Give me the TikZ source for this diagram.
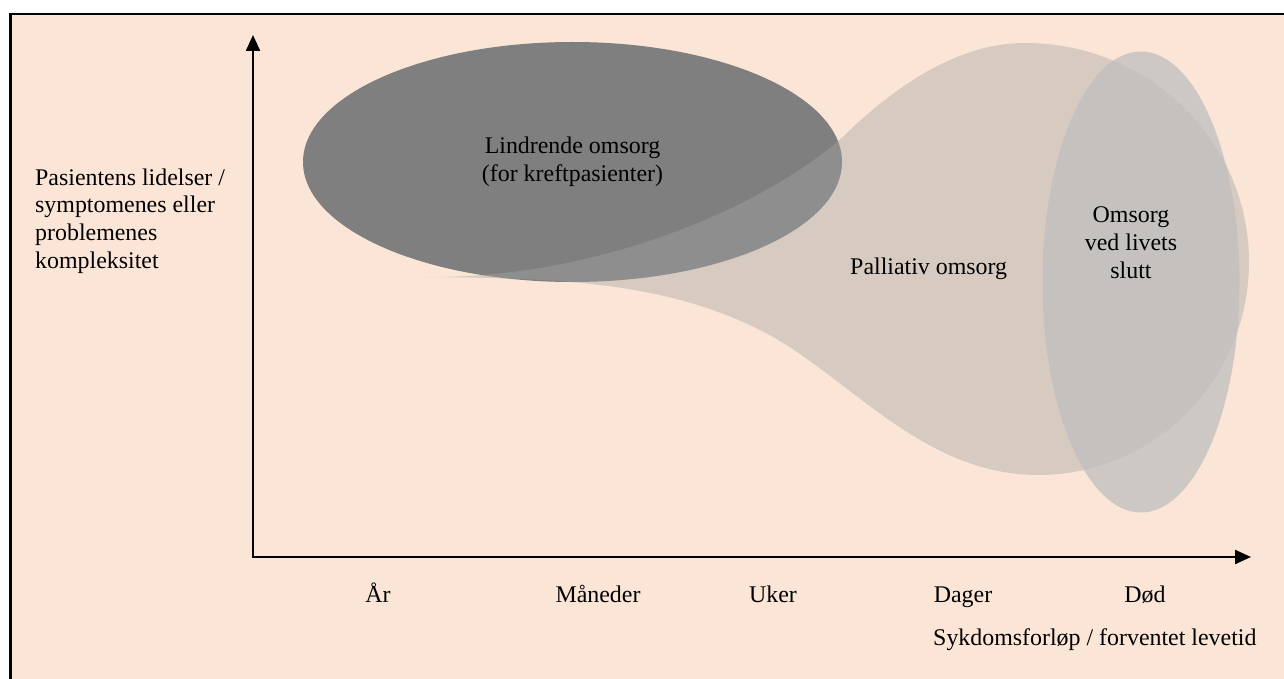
\documentclass[tikz,border=0pt]{standalone}
\usepackage{fontspec}
\setmainfont{Liberation Serif}
\usetikzlibrary{arrows.meta,shapes.geometric}

\definecolor{fersken}{HTML}{FBE5D6}
\definecolor{morkgraa}{HTML}{7F7F7F}
\definecolor{lysgraa}{HTML}{A5A5A5}
\definecolor{sluttgraa}{HTML}{BFBFBF}

\tikzset{
	tekst/.style={text=black, inner sep=0pt, font=\fontsize{23.9}{27.6}\selectfont},
	akse/.style={line width=2.3pt, {Triangle[length=16pt,width=14pt]}-{Triangle[length=16pt,width=14pt]}},
}

\begin{document}
\begin{tikzpicture}[x=1pt,y=-1pt]
		%\draw[thin, draw=gray, step=10] (0,0) grid (1284,679);
		\useasboundingbox (0,0) rectangle (1284,679);
		\fill[white] (0,0) rectangle (1284,679);
		\fill[fersken] (11,14) rectangle (1284,679);
		\draw[line width=2.6pt, black] (10.7,679) -- (10.7,14) -- (1284,14);
		
		% akser
		\coordinate (origo) at (253,557);
		\coordinate (ytopp) at (253,35);
		\coordinate (xende) at (1251,557);
		\draw[akse] (ytopp) -- (origo) -- (xende);
		
		% lindrende omsorg
		\node[ellipse, fill=morkgraa, minimum width=539, minimum height=240, tekst, align=center] (lindrende) at (572.5,162) {Lindrende omsorg\\(for kreftpasienter)};
		
		% palliativ omsorg
		\fill[lysgraa, fill opacity=0.42] (420,277) .. controls (620,280) and (790,190) .. (850,130)
			.. controls (900,83) and (960,43) .. (1025,43)
			.. controls (1149,43) and (1249,141) .. (1249,262)
			.. controls (1249,380) and (1154,475) .. (1038,475)
			.. controls (920,475) and (845,372) .. (760,330)
			.. controls (660,280) and (550,278) .. (420,277) -- cycle;
		\node[tekst, anchor=base west] (palliativ) at (850,274) {Palliativ omsorg};
		
		% omsorg ved livets slutt (grunnlinje = siste linje)
		\node[ellipse, fill=sluttgraa, fill opacity=0.75, minimum width=197, minimum height=461, inner sep=0pt] (livsslutt) at (1141,282) {};
		\node[tekst, align=center, anchor=base] (slutt) at (1131,278) {Omsorg\\ved livets\\slutt};
		
		% y-akse tekst
		\node[tekst, align=left, anchor=base west] (ytekst) at (35,268) {Pasientens lidelser /\\symptomenes eller\\problemenes\\kompleksitet};
		
		% x-akse tekst
		\node[tekst, anchor=base] (aar) at (378,602) {År};
		\node[tekst, anchor=base] (maaneder) at (598,602) {Måneder};
		\node[tekst, anchor=base] (uker) at (773,602) {Uker};
		\node[tekst, anchor=base] (dager) at (963,602) {Dager};
		\node[tekst, anchor=base] (dod) at (1145,602) {Død};
		\node[tekst, anchor=base west] (xtekst) at (933,645) {Sykdomsforløp / forventet levetid};
	\end{tikzpicture}
\end{document}
